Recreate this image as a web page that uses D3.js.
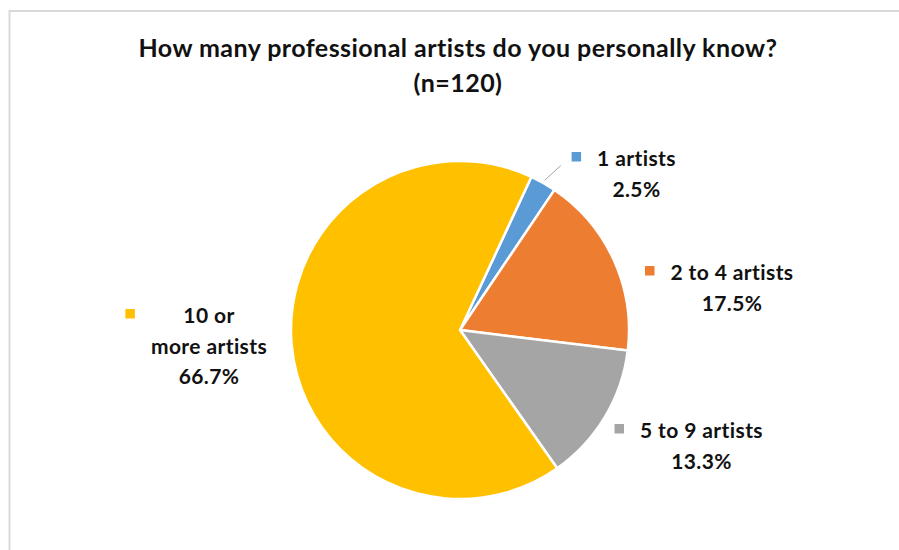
<!DOCTYPE html>
<html>
<head>
<meta charset="utf-8">
<script src="https://cdn.jsdelivr.net/npm/d3@7"></script>
<style>
  html, body { margin: 0; padding: 0; background: #fff; }
  svg { display: block; }
  text { font-family: Lato, "Open Sans", sans-serif; font-weight: 700; fill: #111; }
</style>
</head>
<body>
<svg id="chart" width="899" height="550"></svg>
<script>
// Survey answers: share of respondents per bucket (percent, n = 120)
const categories = ["1 artists", "2 to 4 artists", "5 to 9 artists", "10 or more artists"];
const percents = [2.5, 17.5, 13.3, 66.7];
const colors = ["#5B9BD5", "#ED7D31", "#A5A5A5", "#FFC000"];
const titleLines = ["How many professional artists do you personally know?", "(n=120)"];
// How each category name wraps inside its data label
const labelLines = [["1 artists"], ["2 to 4 artists"], ["5 to 9 artists"], ["10 or", "more artists"]];

// Layout
const W = 899, H = 550;
const cx = 460, cy = 330, R = 169;
const startDeg = 25;
const lineH = 30.5;
const labelFont = 21;
// Centre x and first baseline of every data label block
const labelPos = [
  { x: 636.5, y: 166 },
  { x: 732, y: 280 },
  { x: 701.5, y: 438 },
  { x: 209, y: 323 }
];

const svg = d3.select("#chart");

// Chart area frame
svg.append("rect")
  .attr("x", 9.5).attr("y", 11)
  .attr("width", W + 20).attr("height", H + 20)
  .attr("fill", "#fff")
  .attr("stroke", "#d9d9d9")
  .attr("stroke-width", 2);

// Title
titleLines.forEach((t, k) => {
  svg.append("text")
    .attr("x", 458).attr("y", 56.5 + k * 35.5)
    .attr("text-anchor", "middle")
    .style("font-size", "25px")
    .style("letter-spacing", "0.45px")
    .text(t);
});

// Pie
const rad = d => d * Math.PI / 180;
const pie = d3.pie()
  .value(d => d)
  .sort(null)
  .startAngle(rad(startDeg))
  .endAngle(rad(startDeg + 360));
const arcs = pie(percents);
const arc = d3.arc().innerRadius(0).outerRadius(R);

const g = svg.append("g").attr("transform", `translate(${cx},${cy})`);
g.selectAll("path.slice")
  .data(arcs)
  .join("path")
  .attr("class", "slice")
  .attr("d", arc)
  .attr("fill", (d, i) => colors[i])
  .attr("stroke", "#fff")
  .attr("stroke-width", 2.5)
  .attr("stroke-linejoin", "round");

// Leader line for the thin first slice
{
  const a = arcs[0];
  const mid = (a.startAngle + a.endAngle) / 2;
  const p0 = [Math.sin(mid) * (R + 3), -Math.cos(mid) * (R + 3)];
  const p1 = [Math.sin(mid + rad(2)) * (R + 24), -Math.cos(mid + rad(2)) * (R + 24)];
  g.append("line")
    .attr("x1", p0[0]).attr("y1", p0[1])
    .attr("x2", p1[0]).attr("y2", p1[1])
    .attr("stroke", "#a6a6a6")
    .attr("stroke-width", 1);
}

// Data labels: legend key + category name + percentage
const fmt = d3.format(".1f");
arcs.forEach((a, i) => {
  const pos = labelPos[i];
  const lg = svg.append("g");
  const lines = labelLines[i].concat([fmt(percents[i]) + "%"]);
  let blockLeft = Infinity;
  lines.forEach((t, k) => {
    const tx = lg.append("text")
      .attr("x", pos.x)
      .attr("y", pos.y + k * lineH)
      .attr("text-anchor", "middle")
      .style("font-size", labelFont + "px")
      .style("letter-spacing", "0.4px")
      .text(t);
    if (k < lines.length - 1) {
      const w = tx.node().getComputedTextLength();
      blockLeft = Math.min(blockLeft, pos.x - w / 2);
    }
  });
  const key = 9.5;
  lg.append("rect")
    .attr("x", blockLeft - 16 - key)
    .attr("y", pos.y - 14)
    .attr("width", key).attr("height", key)
    .attr("fill", colors[i]);
});
</script>
</body>
</html>
